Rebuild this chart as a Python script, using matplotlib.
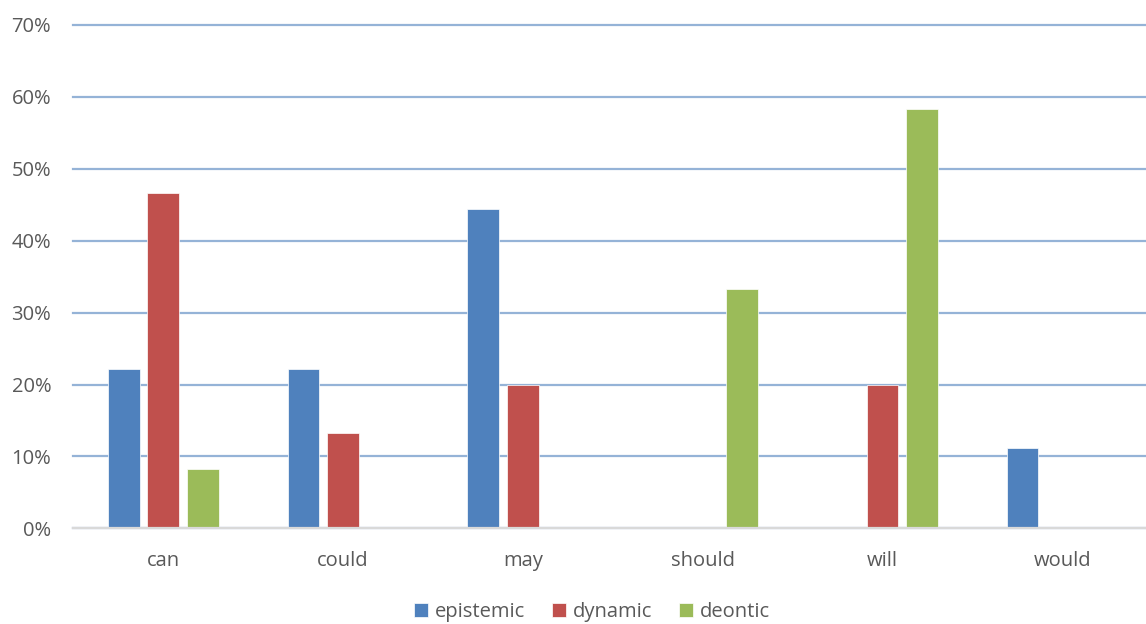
import matplotlib
matplotlib.use("Agg")
import matplotlib.pyplot as plt
from matplotlib.ticker import FuncFormatter
import numpy as np

categories = ["can", "could", "may", "should", "will", "would"]
epistemic = [22.2, 22.2, 44.4, 0, 0, 11.1]
dynamic = [46.7, 13.3, 20.0, 0, 20.0, 0]
deontic = [8.3, 0, 0, 33.3, 58.3, 0]
series_names = ["epistemic", "dynamic", "deontic"]
colors = ["#4F81BD", "#C0504D", "#9BBB59"]

plt.rcParams['font.family'] = ['Open Sans', 'DejaVu Sans']

fig = plt.figure(figsize=(11.46, 6.24), dpi=100)
ax = fig.add_axes([73.4/1146, 95.7/624, (1152-73.4)/1146, (528.3-25)/624])

x = np.arange(len(categories))
w = 0.176
off = 0.22
for i, (vals, name, c) in enumerate(zip([epistemic, dynamic, deontic], series_names, colors)):
    ax.bar(x + (i-1)*off, vals, width=w, color=c, label=name, zorder=3,
           edgecolor="white", linewidth=0.5)

ax.set_xlim(-0.5, 5.5)
ax.set_ylim(0, 70)
ax.set_yticks(np.arange(0, 71, 10))
ax.yaxis.set_major_formatter(FuncFormatter(lambda v, p: f"{int(round(v))}%"))
ax.grid(axis="y", color="#95B3D7", linewidth=1.6, zorder=0)
for gl in ax.get_ygridlines():
    gl.set_clip_on(False)
ax.set_axisbelow(True)
for s in ["top", "right", "left"]:
    ax.spines[s].set_visible(False)
ax.spines["bottom"].set_color("#D9D9D9")
ax.spines["bottom"].set_linewidth(1.6)
ax.spines["bottom"].set_zorder(4)
ax.set_xticks(x)
ax.set_xticklabels(categories)
ax.tick_params(axis="both", length=0, labelsize=14.5, labelcolor="#595959")
ax.tick_params(axis="x", pad=16)
ax.tick_params(axis="y", pad=16)

leg = fig.legend(loc="center", bbox_to_anchor=(592/1146, 1-612/624), ncol=3, frameon=False,
                 fontsize=14.5, handlelength=0.7, handleheight=0.7, handletextpad=0.35,
                 columnspacing=1.3, labelcolor="#595959")

fig.savefig("out.png", dpi=100)
